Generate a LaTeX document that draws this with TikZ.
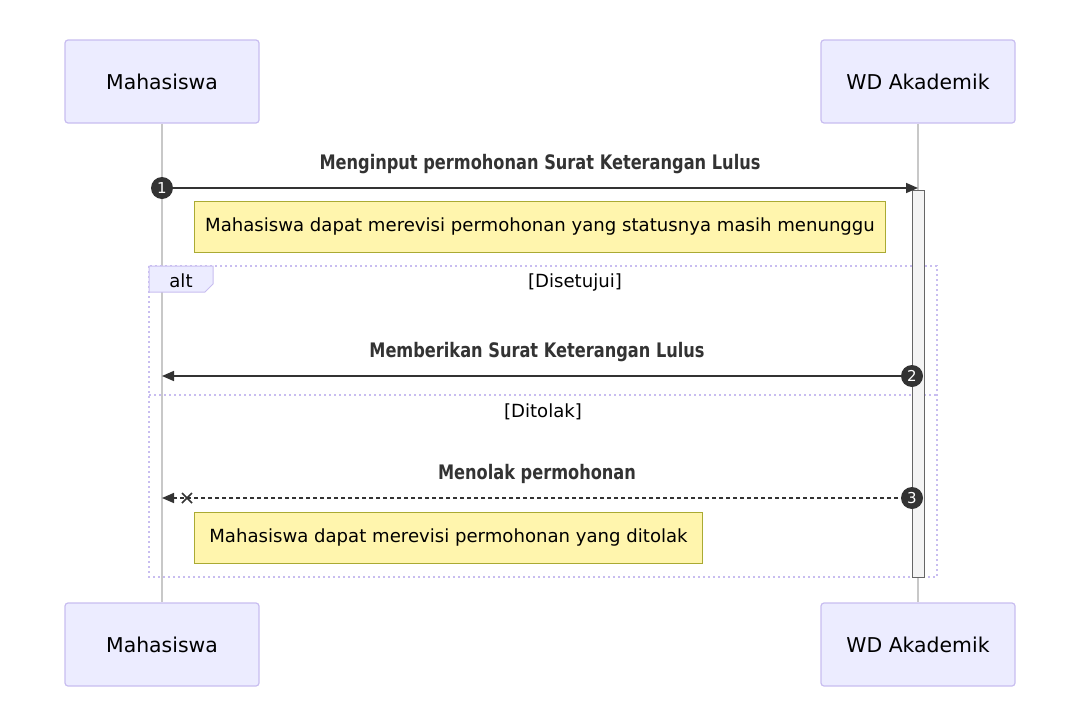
\documentclass[tikz,border=0pt]{standalone}
\usepackage{fontspec}
\setmainfont{DejaVu Sans}
\newfontfamily\msgfont[FakeStretch=0.81]{DejaVu Sans}
\usetikzlibrary{arrows.meta,positioning}
\definecolor{actorfill}{HTML}{ECECFF}
\definecolor{actorline}{HTML}{C8BDF0}
\definecolor{notefill}{HTML}{FFF5AD}
\definecolor{noteline}{HTML}{AAAA33}
\definecolor{signal}{HTML}{333333}
\definecolor{lifegray}{HTML}{C8C8C8}
\definecolor{actfill}{HTML}{F4F4F4}
\definecolor{actline}{HTML}{666666}

\begin{document}
\begin{tikzpicture}[x=1pt,y=-1pt, actor/.style={rectangle,draw=actorline,line width=1.2pt,fill=actorfill,rounded corners=3pt,minimum width=194pt,minimum height=83pt,font=\fontsize{20.4}{24}\selectfont}, note/.style={rectangle,draw=noteline,line width=1pt,fill=notefill,minimum height=51pt,anchor=west,font=\fontsize{18.1}{21}\selectfont}, msg/.style={draw=signal,line width=1.6pt}, line/.style={msg,-{Triangle[length=12pt,width=10pt]}}, msglabel/.style={midway,yshift=24pt,text=signal,font=\msgfont\bfseries\fontsize{20}{24}\selectfont}, seq/.style={circle,fill=signal,text=white,inner sep=0pt,minimum size=22pt,font=\fontsize{15}{17}\selectfont}, altframe/.style={draw=actorline,line width=2pt,dash pattern=on 2pt off 3pt}, guard/.style={font=\fontsize{18.1}{21}\selectfont}, lifeline/.style={draw=lifegray,line width=1.2pt}, activation/.style={rectangle,draw=actline,fill=actfill,line width=1pt,minimum width=12pt,minimum height=387pt,inner sep=0pt}]
\useasboundingbox (0,0) rectangle (1080,715);
\node[actor] (mhs) at (162,81.5) {Mahasiswa};
\node[actor] (wd) at (918,81.5) {WD Akademik};
\node[actor] (mhsb) at (162,644.5) {Mahasiswa};
\node[actor] (wdb) at (918,644.5) {WD Akademik};
\draw[lifeline] (mhs.south) -- (mhsb.north);
\draw[lifeline] (wd.south) -- (wdb.north);
\draw[altframe] (149,266) rectangle (937,577);
\draw[altframe] (149,395) -- (937,395);
\draw[draw=actorline,fill=actorfill,line width=1pt] (149,266) -- (213,266) -- (213,284) -- (205,292) -- (149,292) -- cycle;
\node[guard] (alt) at (181,281) {alt};
\node[guard] (yes) at (575,283) {[Disetujui]};
\node[guard] (no) at (543,412) {[Ditolak]};
\node[activation] (act) at (918,383.5) {};
\node[note,minimum width=691pt] (note1) at (194,226.5) {Mahasiswa dapat merevisi permohonan yang statusnya masih menunggu};
\node[note,minimum width=508pt] (note2) at (194,538) {Mahasiswa dapat merevisi permohonan yang ditolak};
\coordinate (m1s) at (162,188);
\coordinate (m1e) at (918,188);
\coordinate (m2s) at (912,376);
\coordinate (m2e) at (162,376);
\coordinate (m3s) at (912,498);
\coordinate (m3e) at (162,498);
\coordinate (cross) at (187,498);
\draw[line] (m1s) -- node[msglabel] (l1) {Menginput permohonan Surat Keterangan Lulus} (m1e);
\draw[line] (m2s) -- node[msglabel] (l2) {Memberikan Surat Keterangan Lulus} (m2e);
\draw[line,dash pattern=on 4pt off 3pt] (m3s) -- node[msglabel] (l3) {Menolak permohonan} (m3e);
\draw[msg] (cross) +(-5,-5) -- +(5,5) (cross) +(-5,5) -- +(5,-5);
\node[seq] (n1) at (m1s) {1};
\node[seq] (n2) at (m2s) {2};
\node[seq] (n3) at (m3s) {3};
\end{tikzpicture}
\end{document}
